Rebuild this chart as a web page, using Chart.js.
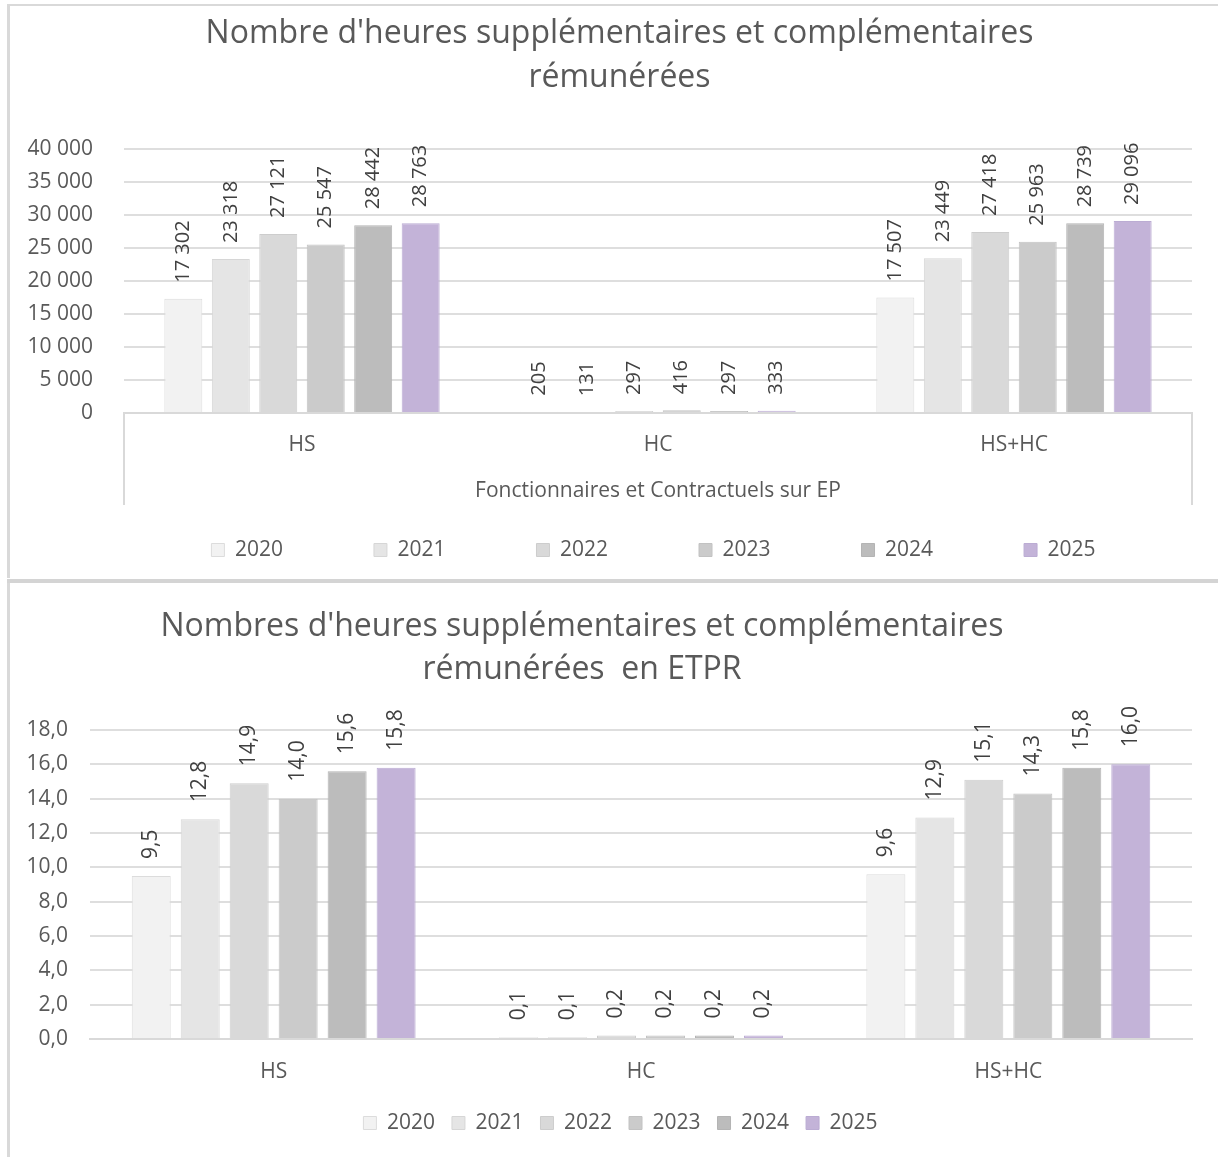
<!DOCTYPE html>
<html>
<head>
<meta charset="utf-8">
<script src="https://cdn.jsdelivr.net/npm/chart.js@4.4.0/dist/chart.umd.min.js"></script>
<style>
  body { margin: 0; background: #fff; }
  .panel { position: absolute; left: 7px; border-left: 3px solid #d9d9d9; }
  #p1 { top: 4px; border-top: 2px solid #d9d9d9; }
  #p2 { top: 583px; }
  #sep { position: absolute; left: 7px; top: 579px; width: 1211px; height: 4px; background: #d4d4d4; }
  canvas { display: block; }
</style>
</head>
<body>
<div class="panel" id="p1"><canvas id="hours" width="1208" height="572"></canvas></div>
<div id="sep"></div>
<div class="panel" id="p2"><canvas id="etpr" width="1208" height="574"></canvas></div>
<script>
// categories and years
const categories = ['HS', 'HC', 'HS+HC'];
const years = ['2020', '2021', '2022', '2023', '2024', '2025'];

// heures payees, par annee (HS, HC, HS+HC)
const hoursHS = [17302, 23318, 27121, 25547, 28442, 28763];
const hoursHC = [205, 131, 297, 416, 297, 333];
const hoursTotal = [17507, 23449, 27418, 25963, 28739, 29096];

// en ETPR
const etprHS = [9.5, 12.8, 14.9, 14.0, 15.6, 15.8];
const etprHC = [0.1, 0.1, 0.2, 0.2, 0.2, 0.2];
const etprTotal = [9.6, 12.9, 15.1, 14.3, 15.8, 16.0];

const fills = ['#f2f2f2', '#e5e5e5', '#d9d9d9', '#cbcbcb', '#bcbcbc', '#c3b3d8'];
const edges = ['#dcdcdc', '#d6d6d6', '#cdcdcd', '#c2c2c2', '#b4b4b4', '#bbacd3'];

Chart.defaults.font.family = "'Open Sans', sans-serif";
Chart.defaults.color = '#595959';

const fmtThousands = v => String(v).replace(/\B(?=(\d{3})+(?!\d))/g, ' ');
const fmtDecimal = v => v.toFixed(1).replace('.', ',');

function buildDatasets(hs, hc, tot, barPct) {
  return years.map((y, i) => ({
    label: y,
    data: [hs[i], hc[i], tot[i]],
    backgroundColor: fills[i],
    borderColor: edges[i],
    borderWidth: 1,
    categoryPercentage: 0.8,
    barPercentage: barPct
  }));
}

// rotated value labels above each bar
function valueLabels(format, size, gap) {
  return {
    id: 'valueLabels',
    afterDatasetsDraw(chart) {
      const ctx = chart.ctx;
      chart.data.datasets.forEach((ds, i) => {
        chart.getDatasetMeta(i).data.forEach((bar, j) => {
          ctx.save();
          ctx.font = size + "px 'Open Sans'";
          ctx.fillStyle = '#404040';
          ctx.translate(bar.x, bar.y - gap);
          ctx.rotate(-Math.PI / 2);
          ctx.textAlign = 'left';
          ctx.textBaseline = 'middle';
          ctx.fillText(format(ds.data[j]), 0, 0);
          ctx.restore();
        });
      });
    }
  };
}

// put title / legend where the original has them (legend spacing is wide,
// so its box is moved after layout instead of eating the plot height)
function placing(titleX, legendX, legendY, legendPad) {
  const shift = (box, cx) => {
    const w = box.right - box.left;
    box.left = cx - w / 2;
    box.right = cx + w / 2;
  };
  return {
    id: 'placing',
    afterLayout(chart) {
      shift(chart.titleBlock, titleX);
      const lg = chart.legend;
      shift(lg, legendX);
      lg.top = legendY - legendPad - 10.5;
      lg.bottom = chart.height;
      lg.height = lg.bottom - lg.top;
    }
  };
}

// the group box below the first chart's axis
const groupBox = {
  id: 'groupBox',
  afterDraw(chart) {
    const {ctx, chartArea: a} = chart;
    ctx.save();
    ctx.strokeStyle = '#d9d9d9';
    ctx.lineWidth = 2;
    ctx.beginPath();
    ctx.moveTo(a.left, a.bottom); ctx.lineTo(a.left, 499);
    ctx.moveTo(a.right, a.bottom); ctx.lineTo(a.right, 499);
    ctx.stroke();
    ctx.font = "21px 'Open Sans'";
    ctx.fillStyle = '#595959';
    ctx.textAlign = 'center';
    ctx.textBaseline = 'middle';
    ctx.fillText('Fonctionnaires et Contractuels sur EP', (a.left + a.right) / 2, 485);
    ctx.restore();
  }
};

function options(cfg) {
  return {
    responsive: false,
    animation: false,
    layout: { padding: { left: 0, right: 26, top: 0, bottom: 0 } },
    plugins: {
      title: {
        display: true,
        text: cfg.title,
        color: '#595959',
        font: { size: 32, weight: 'normal', lineHeight: cfg.titleLine / 32 },
        padding: cfg.titlePad
      },
      legend: {
        position: 'bottom',
        maxHeight: 40,
        labels: {
          boxWidth: 13, boxHeight: 13,
          padding: cfg.legendPad,
          color: '#595959',
          font: { size: 21 }
        }
      },
      tooltip: { enabled: false }
    },
    scales: {
      x: {
        grid: { display: false },
        border: { display: true, color: '#d9d9d9', width: 2 },
        ticks: { padding: cfg.xPad, font: { size: 21 } },
        afterFit: s => { s.height = cfg.xHeight; }
      },
      y: {
        min: 0, max: cfg.max,
        grid: { color: '#dedede', lineWidth: 2, drawTicks: false },
        border: { display: false },
        ticks: { stepSize: cfg.step, padding: cfg.yPad, font: { size: 21 }, callback: cfg.tickFmt },
        afterFit: s => { s.width = cfg.yWidth; }
      }
    }
  };
}

new Chart(document.getElementById('hours'), {
  type: 'bar',
  data: { labels: categories, datasets: buildDatasets(hoursHS, hoursHC, hoursTotal, 0.8) },
  options: options({
    title: ["Nombre d'heures supplémentaires et complémentaires", 'rémunérées'],
    titleLine: 44, titlePad: { top: 6, bottom: 49 },
    legendPad: 91,
    xPad: 11.4, xHeight: 125,
    max: 40000, step: 5000, yPad: 31, yWidth: 114,
    tickFmt: v => fmtThousands(v)
  }),
  plugins: [valueLabels(fmtThousands, 20, 16), placing(609.5, 643.5, 544, 91), groupBox]
});

new Chart(document.getElementById('etpr'), {
  type: 'bar',
  data: { labels: categories, datasets: buildDatasets(etprHS, etprHC, etprTotal, 0.796) },
  options: options({
    title: ["Nombres d'heures supplémentaires et complémentaires", 'rémunérées  en ETPR'],
    titleLine: 43, titlePad: { top: 22.5, bottom: 38.5 },
    legendPad: 17,
    xPad: 12.4, xHeight: 78,
    max: 18, step: 2, yPad: 22, yWidth: 80,
    tickFmt: v => fmtDecimal(v)
  }),
  plugins: [valueLabels(fmtDecimal, 21, 17), placing(572, 610.5, 540, 17)]
});
</script>
</body>
</html>
